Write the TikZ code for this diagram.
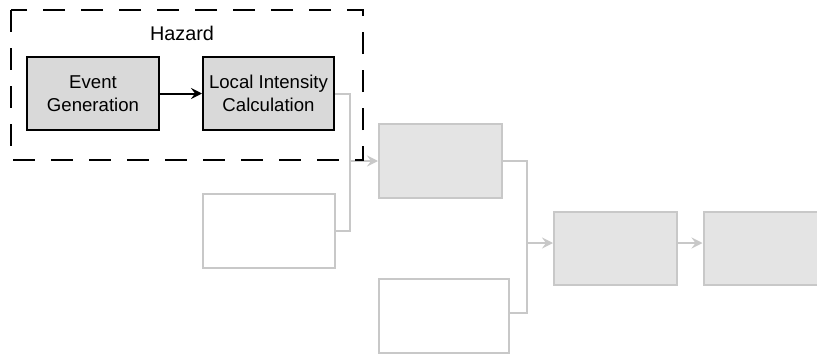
\documentclass[tikz,border=0pt]{standalone}
\usepackage{fontspec}
\setmainfont{Liberation Sans}
\usetikzlibrary{arrows.meta}
\definecolor{lgray}{HTML}{C8C8C8}
\definecolor{gfill}{HTML}{E4E4E4}
\definecolor{hfill}{HTML}{D9D9D9}
\begin{document}
\begin{tikzpicture}[x=1pt,y=-1pt,
  hazbox/.style={draw=black,line width=2pt,fill=hfill,inner sep=0pt,align=center,
    font=\fontsize{18.6}{23}\selectfont},
  graybox/.style={draw=lgray,line width=2pt,fill=gfill,inner sep=0pt},
  whitebox/.style={draw=lgray,line width=2pt,fill=white,inner sep=0pt},
  glink/.style={draw=lgray,line width=2pt},
  garrow/.style={glink,-{Stealth[length=11pt,width=11pt,inset=4pt]}},
  barrow/.style={draw=black,line width=2pt,-{Stealth[length=11pt,width=11pt,inset=4pt]}}]
\useasboundingbox (0,0) rectangle (817,356);
\clip (0,0) rectangle (817,356);
\node[hazbox,minimum width=132pt,minimum height=73pt] (ev) at (93,93.5) {Event\\Generation};
\node[hazbox,minimum width=131pt,minimum height=73pt] (li) at (268.5,93.5) {Local Intensity\\Calculation};
\node[graybox,minimum width=123pt,minimum height=74pt] (a) at (440.5,161) {};
\node[whitebox,minimum width=132pt,minimum height=74pt] (b) at (269,231) {};
\node[whitebox,minimum width=130pt,minimum height=74pt] (c) at (444,316) {};
\node[graybox,minimum width=123pt,minimum height=73pt] (d) at (615.5,248) {};
\node[graybox,minimum width=123pt,minimum height=73pt] (e) at (765,248) {};
\coordinate (m1) at (350,161);
\coordinate (m2) at (527,243);
\draw[barrow] (ev) -- (li);
\draw[glink] (li.east) -| (m1);
\draw[glink] (b.east) -| (m1);
\draw[garrow] (m1) -- (a.west);
\draw[glink] (a.east) -| (m2);
\draw[glink] ([yshift=3pt]c.east) -| (m2);
\draw[garrow] (m2) -- ([yshift=5pt]d.west);
\draw[garrow] ([yshift=5pt]d.east) -- ([yshift=5pt]e.west);
\node[font=\fontsize{19.8}{23}\selectfont] (hz) at (182,33) {Hazard};
\draw[draw=black,line width=2pt,dash pattern=on 22pt off 16pt] (11,10) rectangle (363,160);
\end{tikzpicture}
\end{document}
